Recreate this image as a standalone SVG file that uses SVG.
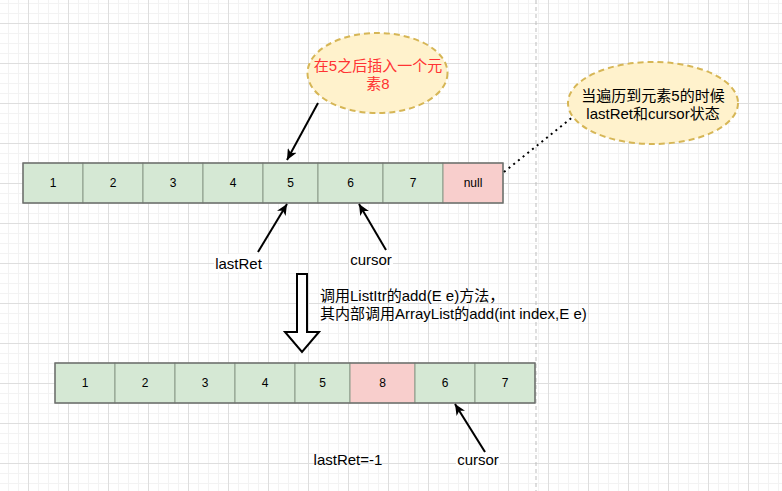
<svg xmlns="http://www.w3.org/2000/svg" width="782" height="491" viewBox="0 0 782 491">
<style>
.cell{stroke:#8a9a88;stroke-width:1}
.g{fill:#d5e8d4}
.p{fill:#f8cecc}
.outline{fill:none;stroke:#6b6b6b;stroke-width:1.3}
.ct{font-family:"Liberation Sans","Noto Sans CJK SC",sans-serif;font-size:12px;fill:#000;text-anchor:middle;dominant-baseline:central}
.t{font-family:"Liberation Sans","Noto Sans CJK SC",sans-serif;font-size:15px;fill:#000;dominant-baseline:central}
.red{fill:#ff3333}
.mid{text-anchor:middle}
.ell{fill:#fff2cc;stroke:#d6b656;stroke-width:2;stroke-dasharray:6 4}
.arr{stroke:#000;stroke-width:2;fill:none;marker-end:url(#ah)}
</style>
<defs>
<pattern id="minor" width="10" height="10" patternUnits="userSpaceOnUse" x="8" y="3">
<path d="M0,0.5 H10 M0.5,0 V10" stroke="#f3f3f3" stroke-width="1" fill="none"/>
</pattern>
<pattern id="major" width="40" height="40" patternUnits="userSpaceOnUse" x="28" y="23">
<path d="M0,0.5 H40 M0.5,0 V40" stroke="#dedede" stroke-width="1" fill="none"/>
</pattern>
<marker id="ah" markerWidth="12" markerHeight="10" refX="11" refY="5" orient="auto" markerUnits="userSpaceOnUse">
<path d="M0,0 L11,5 L0,10 L3,5 Z" fill="#000"/>
</marker>
</defs>
<rect width="782" height="491" fill="#fff"/>
<rect width="782" height="491" fill="url(#minor)"/>
<rect width="782" height="491" fill="url(#major)"/>
<line x1="536" y1="0" x2="536" y2="491" stroke="#bdbdbd" stroke-width="1" stroke-dasharray="4 3"/>

<g id="array-top">
<rect class="cell g" x="23" y="163" width="60" height="40"/>
<rect class="cell g" x="83" y="163" width="60" height="40"/>
<rect class="cell g" x="143" y="163" width="60" height="40"/>
<rect class="cell g" x="203" y="163" width="60" height="40"/>
<rect class="cell g" x="263" y="163" width="55" height="40"/>
<rect class="cell g" x="318" y="163" width="65" height="40"/>
<rect class="cell g" x="383" y="163" width="60" height="40"/>
<rect class="cell p" x="443" y="163" width="60" height="40"/>
<rect class="outline" x="23" y="163" width="480" height="40"/>
<text class="ct" x="53" y="183">1</text>
<text class="ct" x="113" y="183">2</text>
<text class="ct" x="173" y="183">3</text>
<text class="ct" x="233" y="183">4</text>
<text class="ct" x="290.5" y="183">5</text>
<text class="ct" x="350.5" y="183">6</text>
<text class="ct" x="413" y="183">7</text>
<text class="ct" x="473" y="183">null</text>
</g>

<g id="array-bottom">
<rect class="cell g" x="55" y="363" width="60" height="40"/>
<rect class="cell g" x="115" y="363" width="60" height="40"/>
<rect class="cell g" x="175" y="363" width="60" height="40"/>
<rect class="cell g" x="235" y="363" width="60" height="40"/>
<rect class="cell g" x="295" y="363" width="55" height="40"/>
<rect class="cell p" x="350" y="363" width="65" height="40"/>
<rect class="cell g" x="415" y="363" width="60" height="40"/>
<rect class="cell g" x="475" y="363" width="60" height="40"/>
<rect class="outline" x="55" y="363" width="480" height="40"/>
<text class="ct" x="85" y="383">1</text>
<text class="ct" x="145" y="383">2</text>
<text class="ct" x="205" y="383">3</text>
<text class="ct" x="265" y="383">4</text>
<text class="ct" x="322.5" y="383">5</text>
<text class="ct" x="382.5" y="383">8</text>
<text class="ct" x="445" y="383">6</text>
<text class="ct" x="505" y="383">7</text>
</g>

<g id="note-insert">
<ellipse class="ell" cx="377.5" cy="73" rx="70" ry="40"/>
<text class="t red mid" x="378" y="65">在5之后插入一个元</text>
<text class="t red mid" x="378" y="83">素8</text>
</g>

<g id="note-state">
<ellipse class="ell" cx="653" cy="103" rx="85" ry="41"/>
<text class="t mid" x="653" y="95">当遍历到元素5的时候</text>
<text class="t mid" x="653" y="113">lastRet和cursor状态</text>
</g>

<g id="label-lastret">
<rect x="214" y="254" width="49" height="18" fill="#fff"/>
<text class="t mid" x="238.5" y="263">lastRet</text>
</g>
<g id="label-cursor-top">
<rect x="349" y="250" width="44" height="18" fill="#fff"/>
<text class="t mid" x="371" y="259">cursor</text>
</g>
<g id="label-method">
<text class="t" x="320" y="295">调用ListItr的add(E e)方法，</text>
<text class="t" x="320" y="313">其内部调用ArrayList的add(int index,E e)</text>
</g>
<g id="label-lastret-bottom">
<text class="t mid" x="348" y="459">lastRet=-1</text>
</g>
<g id="label-cursor-bottom">
<rect x="456" y="450" width="44" height="18" fill="#fff"/>
<text class="t mid" x="478" y="459">cursor</text>
</g>

<g id="connectors">
<line class="arr" x1="318" y1="103" x2="287" y2="160"/>
<line class="arr" x1="258" y1="252" x2="287" y2="204"/>
<line class="arr" x1="386" y1="250" x2="359" y2="204"/>
<line class="arr" x1="485" y1="452" x2="455" y2="404"/>
<line x1="504" y1="172" x2="574" y2="116" stroke="#000" stroke-width="2" stroke-dasharray="2 4"/>
<path d="M297,274 L307,274 L307,332 L319,332 L302,352 L285,332 L297,332 Z" fill="#fff" stroke="#000" stroke-width="2" stroke-linejoin="miter"/>
</g>
</svg>
